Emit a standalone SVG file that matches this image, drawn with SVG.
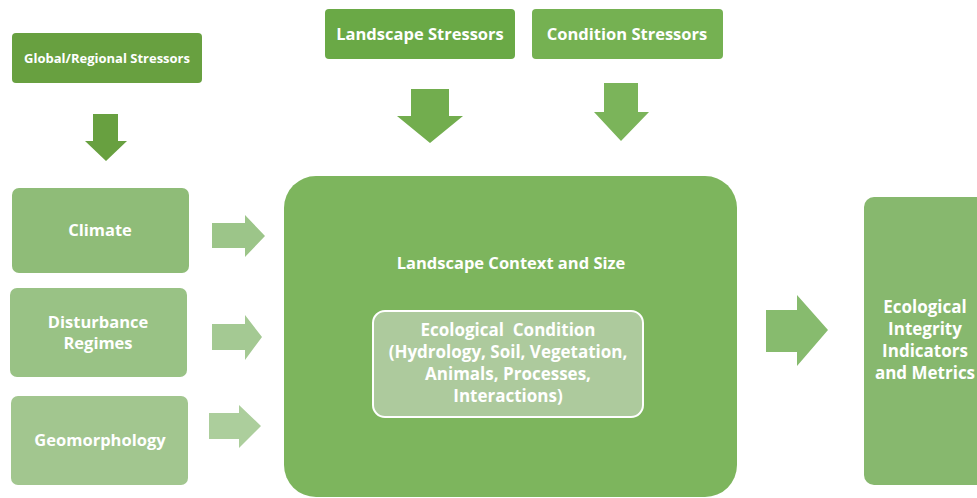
<svg xmlns="http://www.w3.org/2000/svg" width="977" height="498" viewBox="0 0 977 498">
<style>
text{font-family:"Open Sans","Liberation Sans",sans-serif;font-weight:bold;fill:#ffffff;text-anchor:middle;white-space:pre}
.s13{font-size:13px}
.s16{font-size:16.5px}
.s17{font-size:17px}
</style>
<rect width="977" height="498" fill="#ffffff"/>
<g id="connectors">
<polygon points="93,114 118,114 118,141 127,141 106,161 85,141 93,141" fill="#68a040"/>
<polygon points="411,89 449,89 449,116 463,116 430,143 397,116 411,116" fill="#72ad4e"/>
<polygon points="604,83 638,83 638,112 649,112 621,141 594,112 604,112" fill="#7bb45a"/>
<polygon points="212,223 245,223 245,215 265,236 245,257 245,248 212,248" fill="#9cc589"/>
<polygon points="212,324 245,324 245,315 262,337 245,360 245,350 212,350" fill="#a4c993"/>
<polygon points="209,413 239,413 239,405 261,426 239,448 239,439 209,439" fill="#acce9c"/>
<polygon points="766,310 797,310 797,295 828,330 797,366 797,352 766,352" fill="#87bb6e"/>
</g>
<g id="global">
<rect x="12" y="33" width="190" height="50" rx="4" fill="#68a040"/>
<text class="s13" x="107" y="63">Global/Regional Stressors</text>
</g>
<g id="landscape-stressors">
<rect x="325" y="9" width="190" height="50" rx="4" fill="#6aa946"/>
<text class="s16" x="420" y="40">Landscape Stressors</text>
</g>
<g id="condition-stressors">
<rect x="532" y="9" width="191" height="50" rx="4" fill="#75b152"/>
<text class="s16" x="627" y="40">Condition Stressors</text>
</g>
<g id="climate">
<rect x="12" y="188" width="177" height="85" rx="7" fill="#8fbc78"/>
<text class="s16" x="100" y="236">Climate</text>
</g>
<g id="disturbance">
<rect x="10" y="288" width="177" height="89" rx="7" fill="#99c285"/>
<text class="s16" x="98" y="328">Disturbance</text>
<text class="s16" x="98" y="349">Regimes</text>
</g>
<g id="geomorphology">
<rect x="11" y="396" width="177" height="89" rx="7" fill="#a2c68f"/>
<text class="s16" x="100" y="446">Geomorphology</text>
</g>
<g id="landscape-context">
<rect x="284" y="176" width="453" height="321" rx="32" fill="#7db55d"/>
<text class="s16" x="511" y="269">Landscape Context and Size</text>
</g>
<g id="ecological-condition">
<rect x="373" y="311" width="270" height="106" rx="12" fill="#adca9d" stroke="#ffffff" stroke-width="2"/>
<text class="s17" x="508" y="336" xml:space="preserve">Ecological  Condition</text>
<text class="s17" x="508" y="358">(Hydrology, Soil, Vegetation,</text>
<text class="s17" x="508" y="380">Animals, Processes,</text>
<text class="s17" x="508" y="402">Interactions)</text>
</g>
<g id="integrity">
<rect x="864" y="197" width="130" height="288" rx="10" fill="#87b86e"/>
<text class="s17" x="925" y="313">Ecological</text>
<text class="s17" x="925" y="335">Integrity</text>
<text class="s17" x="925" y="357">Indicators</text>
<text class="s17" x="925" y="379">and Metrics</text>
</g>
</svg>
